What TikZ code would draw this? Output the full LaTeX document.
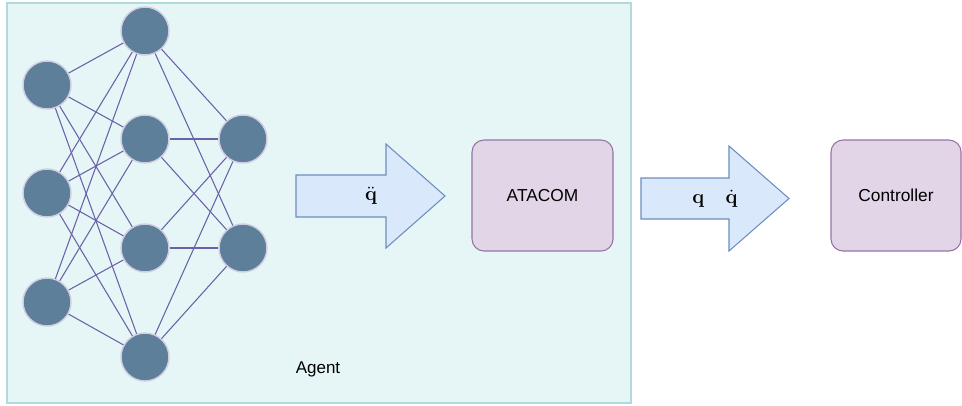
\documentclass[tikz,border=0pt]{standalone}
\usepackage{fix-cm}
\usepackage[no-math]{fontspec}
\setmainfont{Liberation Sans}
\definecolor{agentfill}{HTML}{E6F6F7}
\definecolor{agentline}{HTML}{B0DADC}
\definecolor{neuron}{HTML}{5D7F99}
\definecolor{neuronline}{HTML}{D0CEE2}
\definecolor{wire}{HTML}{6A62A8}
\definecolor{arrowfill}{HTML}{DAE8FC}
\definecolor{arrowline}{HTML}{6C8EBF}
\definecolor{boxfill}{HTML}{E1D5E7}
\definecolor{boxline}{HTML}{9673A6}
\tikzset{
  neuron/.style={circle,fill=neuron,draw=neuronline,line width=1.1pt,minimum size=36pt,inner sep=0pt},
  wire/.style={draw=wire,line width=0.8pt},
  bigarrow/.style={fill=arrowfill,draw=arrowline,line width=0.8pt,line join=miter},
  mathlabel/.style={inner sep=0pt,font=\fontsize{15}{18}\selectfont},
  block/.style={rectangle,rounded corners=9pt,fill=boxfill,draw=boxline,line width=0.8pt,
    minimum width=105.75pt,minimum height=83.25pt,font=\fontsize{13}{15}\selectfont}
}
\begin{document}
\begin{tikzpicture}[x=0.75pt,y=-0.75pt]
            \useasboundingbox (0,0) rectangle (962,405);
            % agent frame
            \filldraw[fill=agentfill,draw=agentline,line width=0.8pt] (7,3) rectangle (631,403);
            \node[font=\fontsize{12.75}{15}\selectfont] (agent) at (318,369) {Agent};
            % network
            \foreach \i/\y in {1/85,2/193,3/302}
                \node[neuron] (in\i) at (47,\y) {};
            \foreach \j/\y in {1/31,2/139,3/248,4/357}
                \node[neuron] (hid\j) at (145,\y) {};
            \foreach \k/\y in {1/139,2/248}
                \node[neuron] (out\k) at (243,\y) {};
            \foreach \i in {1,2,3}
                \foreach \j in {1,...,4}
                    \draw[wire] (in\i) -- (hid\j);
            \foreach \j in {1,...,4}
                \foreach \k in {1,2}
                    \draw[wire] (hid\j) -- (out\k);
            % arrows
            \draw[bigarrow] (296,175) -- (386,175) -- (386,144) -- (445,196)
                -- (386,248) -- (386,217) -- (296,217) -- cycle;
            \node[mathlabel] (acc) at (371,196) {$\ddot{\mathbf{q}}$};
            \draw[bigarrow] (641,178) -- (729,178) -- (729,146) -- (789,198.5)
                -- (729,251) -- (729,219) -- (641,219) -- cycle;
            \node[mathlabel] (state) at (715,199) {$\mathbf{q}\hspace{16pt}\dot{\mathbf{q}}$};
            % blocks
            \node[block] (atacom) at (542.5,195.5) {ATACOM};
            \node[block,minimum width=97.5pt] (ctrl) at (896,195.5) {Controller};
        \end{tikzpicture}
\end{document}
